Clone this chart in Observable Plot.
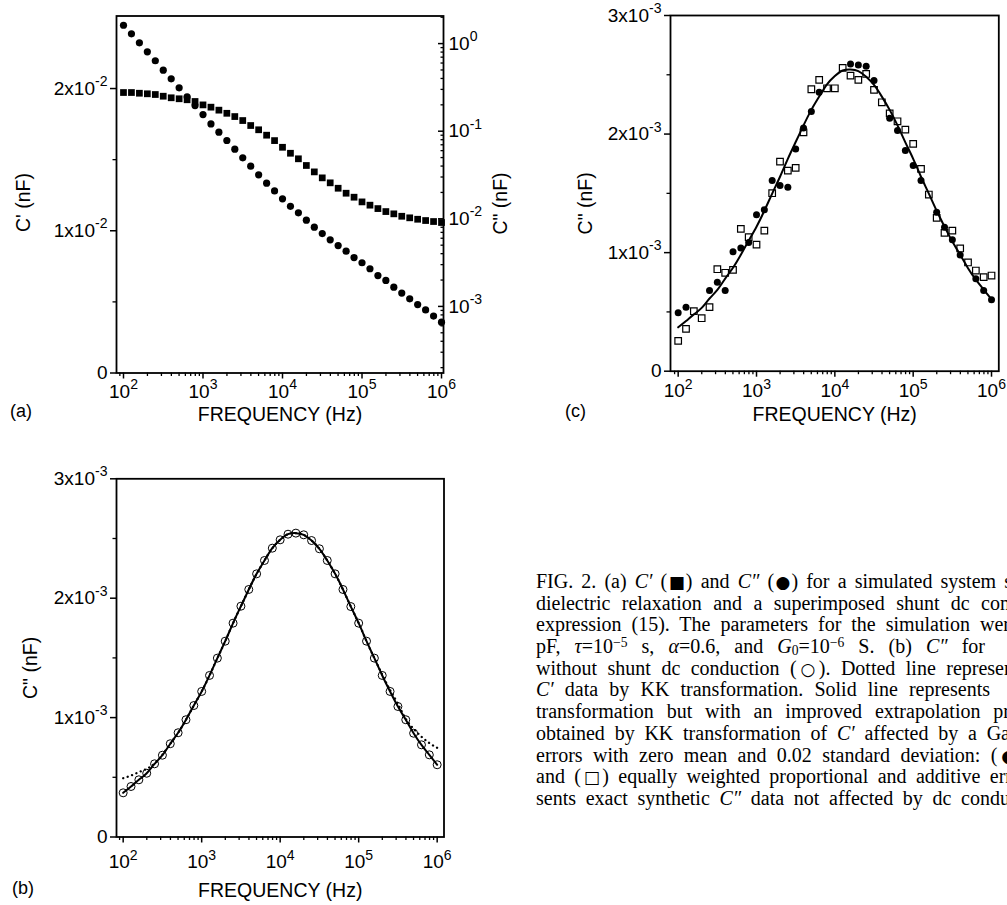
<!DOCTYPE html>
<html>
<head>
<meta charset="utf-8">
<script src="https://cdn.jsdelivr.net/npm/d3@7"></script>
<script src="https://cdn.jsdelivr.net/npm/@observablehq/plot@0.6"></script>
<style>
html, body { margin: 0; padding: 0; background: #fff; }
#root { position: relative; width: 1007px; height: 905px; overflow: hidden; background: #fff;
  font-family: "Liberation Sans", Arial, Helvetica, sans-serif; color: #000; }
#root svg { position: absolute; overflow: visible; }
.plabel { position: absolute; font-size: 18px; line-height: 20px; }
#caption { position: absolute; left: 536px; top: 571px; font-family: "Liberation Serif", "Times New Roman", serif;
  font-size: 20px; line-height: 21.7px; color: #000; }
#caption .ln { white-space: nowrap; text-align: justify; text-align-last: justify; height: 21.7px; overflow: visible; }
#caption .sup { position: relative; top: -0.42em; font-size: 0.68em; line-height: 0; }
#caption .sub { position: relative; top: 0.15em; font-size: 0.68em; line-height: 0; }
#caption .sym { font-family: "DejaVu Sans", sans-serif; font-size: 0.85em; letter-spacing: -0.12em; margin-left: -0.1em; }
</style>
</head>
<body>
<div id="root">
  <div class="plabel" style="left:10px; top:401px;">(a)</div>
  <div class="plabel" style="left:565px; top:401px;">(c)</div>
  <div class="plabel" style="left:12px; top:878px;">(b)</div>
  <div id="caption">
    <div class="ln" style="width:476px">FIG. 2. (a) <i>C′</i> (<span class="sym">■</span>) and <i>C″</i> (<span class="sym">●</span>) for a simulated system s</div>
    <div class="ln" style="width:474px">dielectric relaxation and a superimposed shunt dc con</div>
    <div class="ln" style="width:474px">expression (15). The parameters for the simulation wer</div>
    <div class="ln" style="width:449px">pF, <i>τ</i>=10<span class="sup">−5</span> s, <i>α</i>=0.6, and <i>G</i><span class="sub">0</span>=10<span class="sup">−6</span> S. (b) <i>C″</i> for</div>
    <div class="ln" style="width:478px">without shunt dc conduction (<span class="sym">○</span>). Dotted line represen</div>
    <div class="ln" style="width:454px"><i>C′</i> data by KK transformation. Solid line represents</div>
    <div class="ln" style="width:474px">transformation but with an improved extrapolation pr</div>
    <div class="ln" style="width:474px">obtained by KK transformation of <i>C′</i> affected by a Ga</div>
    <div class="ln" style="width:478px">errors with zero mean and 0.02 standard deviation: (<span class="sym">●</span></div>
    <div class="ln" style="width:476px">and (<span class="sym">□</span>) equally weighted proportional and additive err</div>
    <div class="ln" style="width:474px">sents exact synthetic <i>C″</i> data not affected by dc condu</div>
  </div>
</div>
<script>
// ---------------- DATA ----------------
// Frequencies (Hz), 10 points per decade, 10^2 .. 10^6
const freqHz = [100, 125.9, 158.5, 199.5, 251.2, 316.2, 398.1, 501.2, 631, 794.3,
  1000, 1259, 1585, 1995, 2512, 3162, 3981, 5012, 6310, 7943,
  10000, 12589, 15849, 19953, 25119, 31623, 39811, 50119, 63096, 79433,
  100000, 125893, 158489, 199526, 251189, 316228, 398107, 501187, 630957, 794328, 1000000];

// Panel (a): C' (squares, linear left axis, nF)
const aCprime = [0.01972, 0.01972, 0.01967, 0.01963, 0.01958, 0.01946, 0.01935, 0.01928, 0.01921, 0.01909,
  0.01885, 0.01869, 0.01848, 0.01826, 0.01803, 0.01775, 0.01740, 0.01710, 0.01672, 0.01634,
  0.01587, 0.01545, 0.01506, 0.01459, 0.01414, 0.01372, 0.01337, 0.01299, 0.01264, 0.01236,
  0.01203, 0.01180, 0.01156, 0.01135, 0.01119, 0.01102, 0.01091, 0.01081, 0.01072, 0.01065, 0.01058];
// Panel (a): C'' (circles, log right axis, nF)
const aCdouble = [1.62, 1.294, 1.021, 0.805, 0.637, 0.497, 0.396, 0.313, 0.247, 0.196,
  0.155, 0.121, 0.0975, 0.0783, 0.0624, 0.0497, 0.0399, 0.0318, 0.0255, 0.0208,
  0.0169, 0.0139, 0.0117, 0.00964, 0.00802, 0.00679, 0.00575, 0.00495, 0.00427, 0.00361,
  0.00315, 0.00269, 0.00225, 0.00198, 0.00166, 0.00142, 0.00122, 0.00105, 0.000912, 0.000776, 0.000661];

// Exact synthetic C'' without dc conduction (nF) - panel (b) circles / solid lines
const exactC2 = [0.370e-3, 0.423e-3, 0.479e-3, 0.534e-3, 0.613e-3, 0.685e-3, 0.781e-3, 0.873e-3, 0.982e-3, 1.101e-3,
  1.219e-3, 1.353e-3, 1.498e-3, 1.640e-3, 1.791e-3, 1.933e-3, 2.073e-3, 2.204e-3, 2.316e-3, 2.419e-3,
  2.489e-3, 2.536e-3, 2.545e-3, 2.531e-3, 2.483e-3, 2.414e-3, 2.316e-3, 2.204e-3, 2.073e-3, 1.930e-3,
  1.791e-3, 1.640e-3, 1.498e-3, 1.353e-3, 1.219e-3, 1.093e-3, 0.982e-3, 0.869e-3, 0.772e-3, 0.688e-3, 0.605e-3];
// Panel (b): dotted line (KK transform of C')
const bDotted = [0.492e-3, 0.515e-3, 0.543e-3, 0.571e-3, 0.615e-3, 0.690e-3, 0.781e-3, 0.873e-3, 0.982e-3, 1.101e-3,
  1.219e-3, 1.353e-3, 1.498e-3, 1.640e-3, 1.791e-3, 1.933e-3, 2.073e-3, 2.204e-3, 2.316e-3, 2.419e-3,
  2.489e-3, 2.536e-3, 2.545e-3, 2.531e-3, 2.483e-3, 2.414e-3, 2.316e-3, 2.204e-3, 2.073e-3, 1.930e-3,
  1.791e-3, 1.640e-3, 1.498e-3, 1.360e-3, 1.230e-3, 1.115e-3, 0.990e-3, 0.906e-3, 0.840e-3, 0.787e-3, 0.747e-3];

// Panel (c): filled circles (proportional errors) and open squares (additive errors), nF
const cFilled = [0.492e-3, 0.540e-3, null, null, 0.680e-3, 0.750e-3, 0.680e-3, 1.007e-3, 1.040e-3, 1.085e-3,
  1.319e-3, 1.361e-3, 1.608e-3, 1.566e-3, 1.552e-3, 1.875e-3, 2.052e-3, 2.190e-3, 2.352e-3, null,
  null, null, 2.592e-3, 2.583e-3, 2.572e-3, 2.451e-3, null, 2.133e-3, 2.030e-3, 1.861e-3,
  1.734e-3, 1.608e-3, null, 1.341e-3, 1.214e-3, 1.108e-3, 0.981e-3, null, 0.779e-3, 0.680e-3, 0.602e-3];
const cOpen = [0.256e-3, 0.357e-3, 0.506e-3, 0.447e-3, 0.540e-3, 0.860e-3, 0.830e-3, 0.855e-3, 1.200e-3, 1.130e-3,
  1.068e-3, 1.186e-3, 1.501e-3, 1.768e-3, 1.692e-3, 1.715e-3, 2.015e-3, 2.378e-3, 2.457e-3, 2.386e-3,
  2.386e-3, 2.558e-3, 2.493e-3, 2.457e-3, 2.507e-3, 2.373e-3, 2.268e-3, 2.175e-3, 2.108e-3, 2.038e-3,
  1.917e-3, 1.707e-3, 1.490e-3, 1.293e-3, 1.167e-3, 1.186e-3, 1.035e-3, 0.917e-3, 0.849e-3, 0.793e-3, 0.807e-3];

// Tick values and labels
const xMajorTicks = [100, 1000, 10000, 100000, 1000000];
const xMajorLabels = ["10^2", "10^3", "10^4", "10^5", "10^6"];
const aLeftTicks = [0, 0.01, 0.02];
const aLeftLabels = ["0", "1x10^-2", "2x10^-2"];
const aLeftMinor = [0.005, 0.015];
const aRightTicks = [0.001, 0.01, 0.1, 1];
const aRightLabels = ["10^-3", "10^-2", "10^-1", "10^0"];
const bcTicks = [0, 0.001, 0.002, 0.003];
const bcLabels = ["0", "1x10^-3", "2x10^-3", "3x10^-3"];
const bcMinor = [0.0005, 0.0015, 0.0025];
const xTitle = "FREQUENCY (Hz)";
const aLeftTitle = "C' (nF)";
const c2Title = 'C" (nF)';

// ---------------- BUILD ----------------
const FONT = '"Liberation Sans", Arial, Helvetica, sans-serif';
const TICKFS = 19, TITLEFS = 19.5;
const xMinorTicks = [90];
for (const dec of [100, 1000, 10000, 100000]) for (let m = 2; m <= 9; m++) xMinorTicks.push(m * dec);
const aRightMinor = [];
for (const dec of [1e-4, 1e-3, 1e-2, 1e-1]) for (let m = 2; m <= 9; m++) aRightMinor.push(m * dec);
aRightMinor.push(2);

const lab = (ticks, labels) => { const m = new Map(ticks.map((t, i) => [t, labels[i]])); return d => m.get(d) ?? ""; };
const fmtX = lab(xMajorTicks, xMajorLabels);

const rowsA = freqHz.map((f, i) => ({f, cp: aCprime[i], cpp: aCdouble[i]}));
const rowsB = freqHz.map((f, i) => ({f, v: exactC2[i], dot: bDotted[i]}));
const rowsC = freqHz.map((f, i) => ({f, v: exactC2[i], fill: cFilled[i], open: cOpen[i]}));

function xAxes(tickPadding) {
  return [
    Plot.axisX(xMinorTicks, {anchor: "bottom", tickSize: 3.5, strokeWidth: 1.3, tickFormat: () => "", label: null}),
    Plot.axisX(xMajorTicks, {anchor: "bottom", tickSize: 6, strokeWidth: 1.5, tickPadding, tickFormat: fmtX, fontSize: TICKFS, label: null})
  ];
}
function yLeftAxes(ticks, labels, minor) {
  return [
    Plot.axisY(minor, {anchor: "left", tickSize: 3.5, strokeWidth: 1.3, tickFormat: () => "", label: null}),
    Plot.axisY(ticks, {anchor: "left", tickSize: 6, strokeWidth: 1.5, tickPadding: 3, tickFormat: lab(ticks, labels), fontSize: TICKFS, label: null})
  ];
}
function titles(xdy, ydx, ydy, leftText) {
  return [
    Plot.text([xTitle], {frameAnchor: "bottom", text: d => d, dy: xdy, lineAnchor: "middle", fontSize: TITLEFS}),
    Plot.text([leftText], {frameAnchor: "left", text: d => d, rotate: -90, dx: ydx, dy: ydy, lineAnchor: "middle", textAnchor: "middle", fontSize: TITLEFS})
  ];
}
const baseStyle = {fontFamily: FONT, background: "transparent", overflow: "visible", color: "black"};

// Panel (a) - linear left axis (C')
const A = {width: 530, height: 425, marginLeft: 116, marginRight: 87, marginTop: 15.5, marginBottom: 52.5};
const aX = {type: "log", domain: [10 ** 1.912, 10 ** 6.025]};
const plotA1 = Plot.plot({
  ...A, style: baseStyle,
  x: aX, y: {domain: [0, 0.0251]},
  marks: [
    ...xAxes(5),
    ...yLeftAxes(aLeftTicks, aLeftLabels, aLeftMinor),
    ...titles(42, -93, 8, aLeftTitle),
    Plot.dot(rowsA, {x: "f", y: "cp", symbol: "square", r: 3.8, fill: "black", stroke: "none"}),
    Plot.frame({stroke: "black", strokeWidth: 1.8})
  ]
});
// Panel (a) - log right axis (C'')
const plotA2 = Plot.plot({
  ...A, style: baseStyle,
  x: {...aX, axis: null}, y: {type: "log", domain: [10 ** -3.76, 10 ** 0.315]},
  marks: [
    Plot.axisY(aRightMinor, {anchor: "right", tickSize: 3.5, dx: -3.5, strokeWidth: 1.3, tickFormat: () => "", label: null}),
    Plot.axisY(aRightTicks, {anchor: "right", tickSize: 6, dx: -6, strokeWidth: 1.5, tickFormat: () => "", label: null}),
    Plot.axisY(aRightTicks, {anchor: "right", tickSize: 0, tickPadding: 5, tickFormat: lab(aRightTicks, aRightLabels), fontSize: TICKFS, label: null}),
    Plot.text([c2Title], {frameAnchor: "right", text: d => d, rotate: -90, dx: 57, dy: 9, lineAnchor: "middle", textAnchor: "middle", fontSize: TITLEFS}),
    Plot.dot(rowsA, {x: "f", y: "cpp", r: 3.6, fill: "black", stroke: "none"})
  ]
});

// Panel (c)
const plotC = Plot.plot({
  width: 467, height: 425, marginLeft: 130, marginRight: 8.7, marginTop: 15, marginBottom: 54.3,
  style: baseStyle,
  x: {type: "log", domain: [10 ** 1.902, 10 ** 6.093]}, y: {domain: [0, 0.003]},
  marks: [
    ...xAxes(6.5),
    ...yLeftAxes(bcTicks, bcLabels, bcMinor),
    ...titles(43.5, -85, 10, c2Title),
    Plot.line(rowsC, {x: "f", y: "v", curve: "natural", stroke: "black", strokeWidth: 2}),
    Plot.dot(rowsC, {x: "f", y: "open", symbol: "square", r: 3.7, fill: "none", stroke: "black", strokeWidth: 1.2}),
    Plot.dot(rowsC, {x: "f", y: "fill", r: 3.5, fill: "black", stroke: "none"}),
    Plot.frame({stroke: "black", strokeWidth: 1.8})
  ]
});

// Panel (b)
const plotB = Plot.plot({
  width: 530, height: 465, marginLeft: 116, marginRight: 86.5, marginTop: 38.3, marginBottom: 68.5,
  style: baseStyle,
  x: {type: "log", domain: [10 ** 1.915, 10 ** 6.087]}, y: {domain: [0, 0.003]},
  marks: [
    ...xAxes(11.5),
    ...yLeftAxes(bcTicks, bcLabels, bcMinor),
    ...titles(54, -86, 10, c2Title),
    Plot.line(rowsB, {x: "f", y: "dot", curve: "natural", stroke: "black", strokeWidth: 2.3, strokeDasharray: "0.1,4.6", strokeLinecap: "round"}),
    Plot.line(rowsB, {x: "f", y: "v", curve: "natural", stroke: "black", strokeWidth: 2}),
    Plot.dot(rowsB, {x: "f", y: "v", r: 4, fill: "none", stroke: "black", strokeWidth: 1}),
    Plot.frame({stroke: "black", strokeWidth: 1.8})
  ]
});

// superscripts in tick labels
function supFix(svg) {
  const ns = "http://www.w3.org/2000/svg";
  svg.querySelectorAll("text").forEach(t => {
    const s = t.textContent;
    if (!s.includes("^")) return;
    const [base, sup] = s.split("^");
    while (t.firstChild) t.removeChild(t.firstChild);
    const a = document.createElementNS(ns, "tspan"); a.textContent = base; t.appendChild(a);
    const b = document.createElementNS(ns, "tspan"); b.textContent = sup;
    b.setAttribute("dy", "-0.6em"); b.setAttribute("font-size", "0.74em"); t.appendChild(b);
  });
}

const root = document.getElementById("root");
function place(svg, left, top) {
  supFix(svg);
  svg.style.left = left + "px"; svg.style.top = top + "px";
  root.appendChild(svg);
}
place(plotA1, 0, 0);
place(plotA2, 0, 0);
place(plotC, 540, 0);
place(plotB, 0, 440);
</script>
</body>
</html>
